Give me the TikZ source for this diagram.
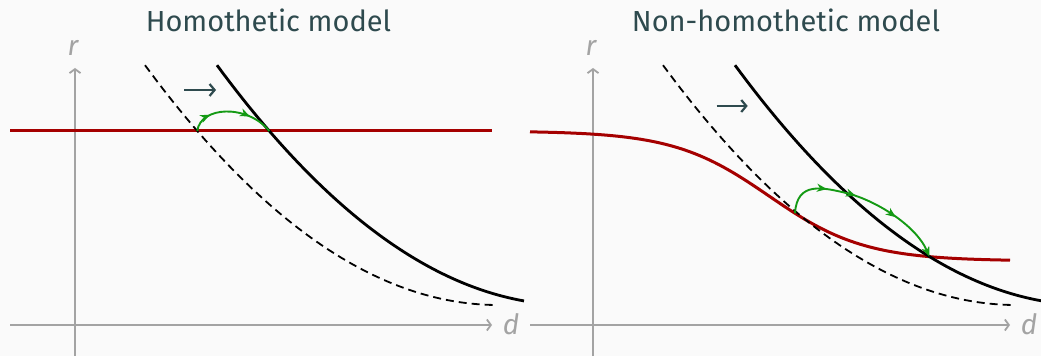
\documentclass[tikz,border=0pt]{standalone}
\usepackage{fontspec}
\setmainfont{Fira Sans}
\usetikzlibrary{arrows.meta,decorations.markings,intersections}

\definecolor{bggray}{HTML}{FAFAFA}
\definecolor{titleslate}{HTML}{2E4A4E}
\definecolor{axisgray}{HTML}{A3A3A3}
\definecolor{demandred}{HTML}{A50000}
\definecolor{movegreen}{HTML}{149A14}

\tikzset{
  greenhead/.tip={Stealth[length=10pt,width=8pt,inset=3pt]},
  axisline/.style={axisgray, line width=1.8pt, -{Straight Barb[length=4pt,width=11pt]}},
  axislabel/.style={text=axisgray, font=\fontsize{28}{32}\selectfont\itshape},
  paneltitle/.style={text=titleslate, font=\fontsize{29}{34}\selectfont, anchor=base},
  newcurve/.style={black, line width=2.8pt},
  oldcurve/.style={black, line width=1.8pt, dash pattern=on 8pt off 5pt},
  redcurve/.style={demandred, line width=3pt},
  shiftarrow/.style={titleslate, line width=2.2pt, -{Straight Barb[length=5pt,width=12pt]}},
  movepath/.style={movegreen, line width=1.9pt, postaction=decorate}
}

\begin{document}
\begin{tikzpicture}[x=1pt, y=1pt]
    % Background
    \fill[bggray] (0,0) rectangle (1041,356);
    \useasboundingbox (0,0) rectangle (1041,356);

    % ---------- Left panel ----------
    \node[paneltitle] (titleL) at (268.5,324) {Homothetic model};

    % Axes
    \draw[axisline] (75,0) -- (75,288);
    \draw[axisline] (10,31) -- (492,31);
    \node[axislabel] (rL) at (73,308.5) {r};
    \node[axislabel] (dL) at (511,32) {d};

    % Curves
    \draw[redcurve, name path=redL] (10,225) -- (492,225);
    \draw[oldcurve, name path=oldL] plot[domain=145:495, samples=60] (\x, {51+(0.043863*(498-\x))^2});
    \draw[newcurve, name path=newL] plot[domain=217:524, samples=60] (\x, {51+(0.043863*(570-\x))^2});

    % Shift
    \draw[shiftarrow] (184,266) -- (216,266);

    % Adjustment
    \path[name intersections={of=redL and oldL, by=startL}];
    \path[name intersections={of=redL and newL, by=endL}];
    \draw[movepath, decoration={markings,
        mark=at position 0.25 with {\arrow{greenhead}},
        mark=at position 0.72 with {\arrow{greenhead}}}]
        (startL) .. controls +(3,25) and +(-22,27) .. (endL);

    % ---------- Right panel ----------
    \node[paneltitle] (titleR) at (786,324) {Non-homothetic model};

    % Axes
    \draw[axisline] (593,0) -- (593,288);
    \draw[axisline] (530,31) -- (1010,31);
    \node[axislabel] (rR) at (591,308.5) {r};
    \node[axislabel] (dR) at (1029,32) {d};

    % Curves
    \draw[redcurve, name path=redR] plot[domain=530:1010, samples=100] (\x, {95+130/(1+exp((\x-769)/47.7))});
    \draw[oldcurve] plot[domain=663:1013, samples=60] (\x, {51+(0.043863*(1016-\x))^2});
    \draw[newcurve, name path=newR] plot[domain=735:1045, samples=60] (\x, {51+(0.043863*(1088-\x))^2});

    % Shift
    \draw[shiftarrow] (716.7,250) -- (747.7,250);

    % Adjustment
    \coordinate (startR) at (795, {95+130/(1+exp(26/47.7))});
    \coordinate (midR) at (847, {51+(0.043863*(1088-847))^2});
    \path[name intersections={of=redR and newR, by=endR}];
    \draw[movepath, -greenhead, decoration={markings,
        mark=at position 0.27 with {\arrow{greenhead}},
        mark=at position 0.44 with {\arrow{greenhead}},
        mark=at position 0.70 with {\arrow{greenhead}}}]
        (startR) .. controls +(2,32) and +(-25,6) .. (midR)
                 .. controls +(28,-7) and +(-14,32) .. (endR);
\end{tikzpicture}
\end{document}
